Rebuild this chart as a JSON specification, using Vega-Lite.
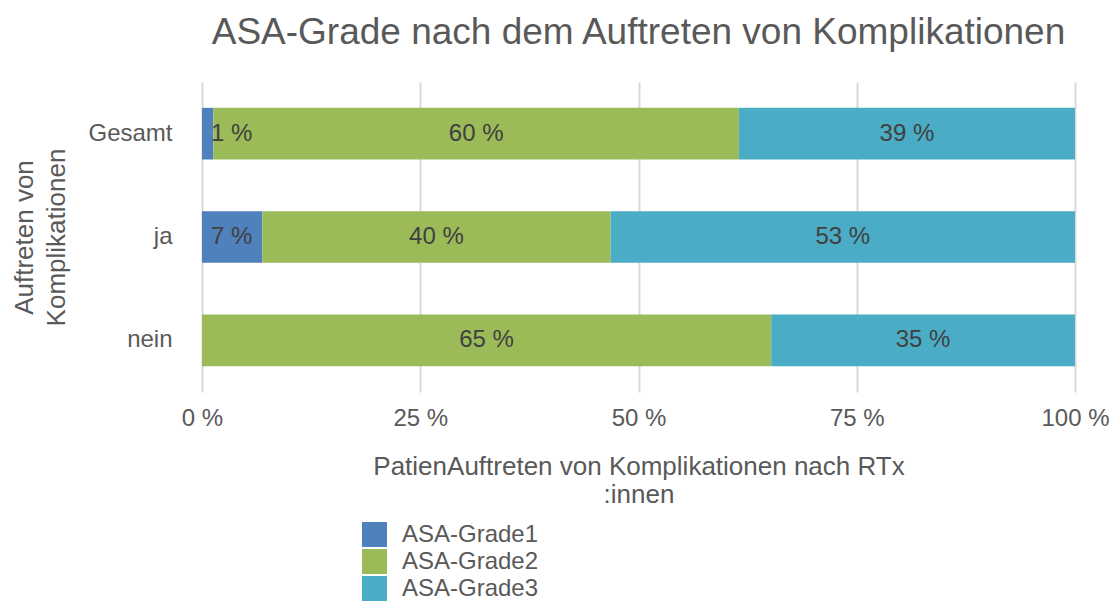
{
  "$schema": "https://vega.github.io/schema/vega-lite/v6.json",
  "width": 873,
  "height": 310,
  "autosize": "none",
  "padding": {"left": 202, "top": 82, "right": 41, "bottom": 209},
  "background": "white",
  "config": {
    "font": "Liberation Sans",
    "view": {"stroke": null},
    "axis": {"labelColor": "#595959", "titleColor": "#595959", "titleFontWeight": "normal", "labelFont": "Liberation Sans", "titleFont": "Liberation Sans"}
  },
  "title": {
    "text": "ASA-Grade nach dem Auftreten von Komplikationen",
    "fontSize": 37,
    "fontWeight": "normal",
    "color": "#595959",
    "anchor": "middle",
    "offset": 30
  },
  "data": {
    "values": [
      {"gruppe": "Gesamt", "grade": "ASA-Grade1", "pct": 1.3},
      {"gruppe": "Gesamt", "grade": "ASA-Grade2", "pct": 60.2},
      {"gruppe": "Gesamt", "grade": "ASA-Grade3", "pct": 38.5},
      {"gruppe": "ja", "grade": "ASA-Grade1", "pct": 6.9},
      {"gruppe": "ja", "grade": "ASA-Grade2", "pct": 39.9},
      {"gruppe": "ja", "grade": "ASA-Grade3", "pct": 53.2},
      {"gruppe": "nein", "grade": "ASA-Grade2", "pct": 65.2},
      {"gruppe": "nein", "grade": "ASA-Grade3", "pct": 34.8}
    ]
  },
  "transform": [
    {"stack": "pct", "groupby": ["gruppe"], "sort": [{"field": "grade", "order": "ascending"}], "as": ["s0", "s1"], "offset": "normalize"},
    {"calculate": "(datum.s0 + datum.s1) / 2", "as": "mid"},
    {"calculate": "format(datum.pct, '.0f') + ' %'", "as": "label"}
  ],
  "encoding": {
    "y": {
      "field": "gruppe",
      "type": "nominal",
      "sort": ["Gesamt", "ja", "nein"],
      "scale": {"paddingInner": 0.5, "paddingOuter": 0.25},
      "axis": {
        "title": ["Auftreten von", "Komplikationen"],
        "titleFontSize": 26,
        "titleLineHeight": 32,
        "titlePadding": 18,
        "labelFontSize": 24,
        "labelPadding": 30,
        "ticks": false,
        "domain": false
      }
    }
  },
  "layer": [
    {
      "mark": {"type": "bar"},
      "encoding": {
        "x": {
          "field": "s0",
          "type": "quantitative",
          "scale": {"domain": [0, 1], "nice": false},
          "axis": {
            "values": [0, 0.25, 0.5, 0.75, 1],
            "labelExpr": "round(datum.value * 100) + ' %'",
            "labelFontSize": 24,
            "labelPadding": 14,
            "labelFlush": false,
            "ticks": false,
            "domain": false,
            "grid": true,
            "gridColor": "#d9d9d9",
            "gridWidth": 2,
            "title": ["PatienAuftreten von Komplikationen nach RTx", ":innen"],
            "titleFontSize": 26,
            "titleLineHeight": 28,
            "titlePadding": 23
          }
        },
        "x2": {"field": "s1"},
        "color": {
          "field": "grade",
          "type": "nominal",
          "scale": {"domain": ["ASA-Grade1", "ASA-Grade2", "ASA-Grade3"], "range": ["#4F81BD", "#9BBB59", "#4BACC6"]},
          "legend": {
            "title": null,
            "orient": "none",
            "legendX": 160,
            "legendY": 440,
            "padding": 0,
            "symbolType": "square",
            "symbolSize": 625,
            "symbolStrokeWidth": 0,
            "labelFontSize": 24,
            "labelColor": "#595959",
            "labelOffset": 15,
            "rowPadding": 2
          }
        }
      }
    },
    {
      "transform": [{"filter": "datum.grade != 'ASA-Grade1'"}],
      "mark": {"type": "text", "fontSize": 24, "color": "#404040"},
      "encoding": {
        "x": {"field": "mid", "type": "quantitative"},
        "text": {"field": "label"}
      }
    },
    {
      "transform": [{"filter": "datum.grade == 'ASA-Grade1'"}],
      "mark": {"type": "text", "fontSize": 24, "color": "#404040", "align": "left", "dx": 9},
      "encoding": {
        "x": {"field": "s0", "type": "quantitative"},
        "text": {"field": "label"}
      }
    }
  ]
}
